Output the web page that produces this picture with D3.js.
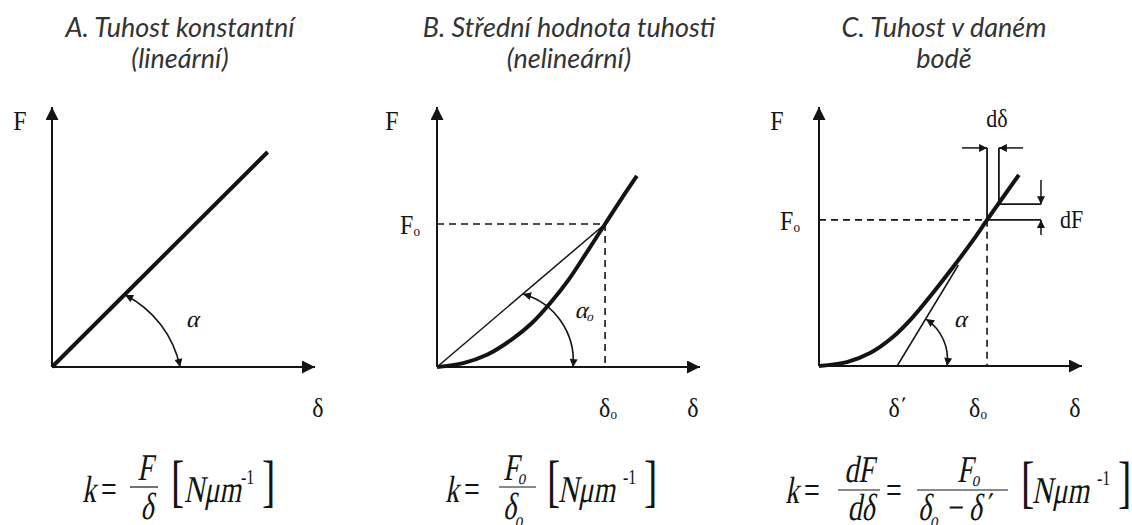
<!DOCTYPE html>
<html><head><meta charset="utf-8">
<script src="https://cdn.jsdelivr.net/npm/d3@7"></script>
<style>body{margin:0;background:#fff}svg{display:block}</style>
</head><body><svg id="chart" width="1132" height="525"></svg>
<script>
// ---------- DATA (δ on x, F on y; arbitrary units 0–10) ----------
const panelTitles = [
  ["A. Tuhost konstantní", "(lineární)"],
  ["B. Střední hodnota tuhosti", "(nelineární)"],
  ["C. Tuhost v daném", "bodě"]
];
const lineA  = [[0, 0], [8.2, 8.27]];
const curveB = [[0,0],[1,0.15],[1.9,0.47],[2.9,1.1],[3.6,1.68],[4.3,2.45],[5.0,3.35],[5.7,4.42],[6.39,5.5],[7.0,6.45],[7.6,7.35]];
const curveC = [[0,0],[1.06,0.15],[1.94,0.5],[2.81,1.12],[3.57,1.89],[4.33,2.82],[5.1,3.82],[5.86,4.86],[6.39,5.64],[7.6,7.38]];
const pointB = [6.39, 5.5];          // (δo, Fo)
const pointC = [6.39, 5.64];         // (δo, Fo)
const deltaPrimeC = 2.97;            // δ'
const tangentEndC = [5.3, 3.9];
const dDeltaC = 0.45, dFC = 0.61;    // increments drawn at the point
const arcA = [[2.78,2.77],[3.99,1.81],[4.87,0]];
const arcB = [[3.27,2.81],[4.68,1.81],[5.17,0]];
const arcC = [[4.07,1.81],[4.68,1.12],[4.87,0]];

// ---------- LAYOUT ----------
const svg = d3.select("#chart");
const ink = "#141414";
const serifFam = "'Liberation Serif', Tinos, 'Times New Roman', serif";
const panels = [
  {ox:52,  oy:367, xe:315,  yt:107},
  {ox:437, oy:367, xe:700,  yt:107},
  {ox:819, oy:366, xe:1082, yt:107}
];
panels.forEach(p => {
  p.x = d3.scaleLinear().domain([0,10]).range([p.ox, p.xe]);
  p.y = d3.scaleLinear().domain([0,10]).range([p.oy, p.yt]);
});

const defs = svg.append("defs");
function marker(id, len, wid){
  defs.append("marker").attr("id", id)
    .attr("viewBox","0 0 10 10").attr("refX",10).attr("refY",5)
    .attr("markerWidth",len).attr("markerHeight",wid)
    .attr("markerUnits","userSpaceOnUse")
    .attr("orient","auto-start-reverse")
    .append("path").attr("d","M0,0L10,5L0,10Z").attr("fill",ink);
}
marker("axisHead", 14, 13);
marker("smallHead", 10, 8);

// text helper: optional vertical scale and synthetic slant (kept as real text)
function stext(x, y, str, o = {}) {
  const tf = `translate(${x},${y}) scale(1,${o.sy || 1})` + (o.slant ? ` skewX(-14)` : "");
  return svg.append("text")
    .attr("transform", tf)
    .attr("font-family", o.family || serifFam)
    .attr("font-size", o.size || 24)
    .attr("font-style", o.italic ? "italic" : "normal")
    .attr("font-weight", o.weight || "normal")
    .attr("text-anchor", o.anchor || "start")
    .attr("fill", o.fill || ink)
    .text(str);
}
function sub(x, y, main, subscript, o = {}) {
  const t = stext(x, y, main, o);
  t.append("tspan").attr("font-size", (o.size || 24) * 0.55).attr("dy", o.subDy || 4).text(subscript);
  return t;
}

// Titles
const titleCenters = [180, 569, 944];
panelTitles.forEach((lines, i) => {
  lines.forEach((ln, j) => {
    stext(titleCenters[i], j === 0 ? 37 : 68, ln, {
      family: "Lato, 'Open Sans', sans-serif", italic: true, size: 27, sy: 0.97,
      anchor: "middle", fill: "#333"
    });
  });
});

// Axes
panels.forEach(p => {
  svg.append("line").attr("x1", p.x(0)).attr("y1", p.y(0)).attr("x2", p.x(10)).attr("y2", p.y(0))
    .attr("stroke", ink).attr("stroke-width", 2).attr("marker-end", "url(#axisHead)");
  svg.append("line").attr("x1", p.x(0)).attr("y1", p.y(0)).attr("x2", p.x(0)).attr("y2", p.y(10))
    .attr("stroke", ink).attr("stroke-width", 2).attr("marker-end", "url(#axisHead)");
});

const [PA, PB, PC] = panels;
const lineGen = p => d3.line().x(d => p.x(d[0])).y(d => p.y(d[1]));

// Panel A
svg.append("path").attr("d", lineGen(PA)(lineA)).attr("fill","none").attr("stroke",ink).attr("stroke-width",4);

// Panel B
svg.append("path").attr("d", lineGen(PB)([[0,0], pointB])).attr("fill","none").attr("stroke",ink).attr("stroke-width",1.5);
svg.append("path").attr("d", lineGen(PB)([[0, pointB[1]], pointB, [pointB[0], 0]])).attr("fill","none")
  .attr("stroke",ink).attr("stroke-width",1.6).attr("stroke-dasharray","7,5");
svg.append("path").attr("d", lineGen(PB).curve(d3.curveCatmullRom)(curveB)).attr("fill","none").attr("stroke",ink).attr("stroke-width",4);

// Panel C
svg.append("path").attr("d", lineGen(PC)([[0, pointC[1]], pointC, [pointC[0], 0]])).attr("fill","none")
  .attr("stroke",ink).attr("stroke-width",1.6).attr("stroke-dasharray","7,5");
svg.append("path").attr("d", lineGen(PC)([[deltaPrimeC,0], tangentEndC])).attr("fill","none").attr("stroke",ink).attr("stroke-width",1.5);
svg.append("path").attr("d", lineGen(PC).curve(d3.curveCatmullRom)(curveC)).attr("fill","none").attr("stroke",ink).attr("stroke-width",4);

// dδ / dF construction
const [d0, F0] = pointC;
const d1 = d0 + dDeltaC, F1 = F0 + dFC;
const topY = 8.42, rightX = 8.44;
const dimLines = [
  [[d0, F0], [d0, topY]],
  [[d1, F1], [d1, topY]],
  [[d0, F0], [rightX, F0]],
  [[d1, F1], [rightX, F1]]
];
dimLines.forEach(l => svg.append("path").attr("d", lineGen(PC)(l)).attr("fill","none").attr("stroke",ink).attr("stroke-width",1.8));
const dimArrows = [
  [[5.44, topY], [d0, topY]],
  [[7.76, topY], [d1, topY]],
  [[rightX, 7.18], [rightX, F1]],
  [[rightX, 5.06], [rightX, F0]]
];
dimArrows.forEach(l => svg.append("path").attr("d", lineGen(PC)(l)).attr("fill","none").attr("stroke",ink).attr("stroke-width",1.5).attr("marker-end","url(#smallHead)"));

// Angle arcs (circle through three points)
function arc3(p, pts) {
  const [a, b, c] = pts.map(d => [p.x(d[0]), p.y(d[1])]);
  const D = 2 * (a[0]*(b[1]-c[1]) + b[0]*(c[1]-a[1]) + c[0]*(a[1]-b[1]));
  const ux = ((a[0]**2+a[1]**2)*(b[1]-c[1]) + (b[0]**2+b[1]**2)*(c[1]-a[1]) + (c[0]**2+c[1]**2)*(a[1]-b[1])) / D;
  const uy = ((a[0]**2+a[1]**2)*(c[0]-b[0]) + (b[0]**2+b[1]**2)*(a[0]-c[0]) + (c[0]**2+c[1]**2)*(b[0]-a[0])) / D;
  const r = Math.hypot(a[0]-ux, a[1]-uy);
  const cross = (c[0]-a[0])*(b[1]-a[1]) - (c[1]-a[1])*(b[0]-a[0]);
  const sweep = cross < 0 ? 1 : 0;
  svg.append("path").attr("d", `M${a[0]},${a[1]} A${r},${r} 0 0 ${sweep} ${c[0]},${c[1]}`)
    .attr("fill","none").attr("stroke",ink).attr("stroke-width",1.6)
    .attr("marker-start","url(#smallHead)").attr("marker-end","url(#smallHead)");
}
arc3(PA, arcA); arc3(PB, arcB); arc3(PC, arcC);

// Axis labels
const lab = {size: 24, sy: 1.15, anchor: "middle"};
stext(PA.ox - 32, 130, "F", lab);
stext(PB.ox - 45, 130, "F", lab);
stext(PC.ox - 42, 130, "F", lab);
stext(PA.xe + 3, 417, "δ", lab);
stext(PB.xe - 7, 417, "δ", lab);
stext(PC.xe - 7, 417, "δ", lab);
sub(PB.ox - 27, PB.y(pointB[1]) + 10, "F", "o", {...lab, subDy:2});
sub(PC.ox - 29, PC.y(pointC[1]) + 10, "F", "o", {...lab, subDy:2});
sub(PB.x(pointB[0]) + 3, 417, "δ", "o", {...lab, subDy:2});
sub(PC.x(pointC[0]) - 9, 417, "δ", "o", {...lab, subDy:2});
stext(PC.x(deltaPrimeC) + 1, 417, "δ΄", lab);
stext(192, 327, "α", {size:24, slant:true, anchor:"middle"});
sub(584, 318, "α", "o", {size:24, slant:true, anchor:"middle", subDy:3});
stext(960, 327, "α", {size:24, slant:true, anchor:"middle"});
stext(997, 127, "dδ", {size:22, sy:1.1, anchor:"middle"});
stext(1060, 228, "dF", {size:22, sy:1.1});

// ---------- FORMULAS ----------
const fs = 28, fsy = 1.35;
const fo = {size: fs, slant: true, sy: fsy};
const up = {size: fs, sy: fsy};
const br = {size: 40, sy: 1.4};
const sup = {size: 16, sy: fsy};
function bar(x1, x2, y) { svg.append("line").attr("x1",x1).attr("x2",x2).attr("y1",y).attr("y2",y).attr("stroke",ink).attr("stroke-width",1.2); }

// A
stext(82, 502, "k", fo);
stext(101, 502, "=", up);
bar(130, 158, 487);
stext(145, 480, "F", {...fo, anchor:"middle"});
stext(147, 519, "δ", {...fo, anchor:"middle"});
stext(171, 500, "[", br);
stext(184, 502, "Nμm", fo);
stext(241, 484, "-1", sup);
stext(262, 500, "]", br);

// B
stext(445, 502, "k", fo);
stext(464, 502, "=", up);
bar(499, 536, 487);
sub(503, 480, "F", "o", {...fo, subDy:3});
sub(503, 519, "δ", "o", {...fo, subDy:6});
stext(547, 500, "[", br);
stext(558, 502, "Nμm", fo);
stext(623, 484, "-1", sup);
stext(644, 500, "]", br);

// C
stext(785, 503, "k", fo);
stext(804, 503, "=", up);
bar(838, 880, 490);
stext(859, 482, "dF", {...fo, anchor:"middle"});
stext(861, 520, "dδ", {...fo, anchor:"middle"});
stext(886, 503, "=", up);
bar(917, 1008, 490);
sub(957, 482, "F", "o", {...fo, subDy:3});
const den = stext(918, 520, "δ", fo);
den.append("tspan").attr("font-size", fs*0.55).attr("dy", 5).text("o");
den.append("tspan").attr("dy", -5).text(" − δ΄");
stext(1021, 501, "[", br);
stext(1032, 503, "Nμm", fo);
stext(1097, 485, "-1", sup);
stext(1118, 501, "]", br);
</script></body></html>
